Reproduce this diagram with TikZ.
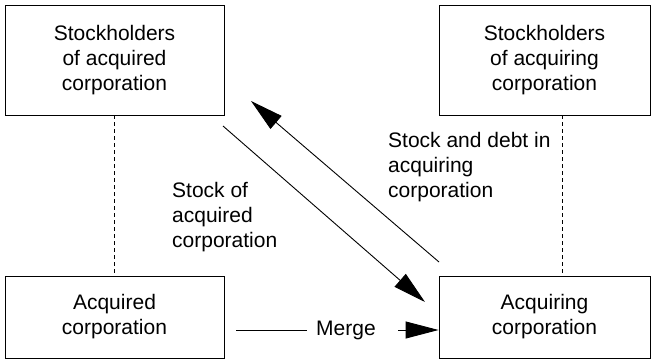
\documentclass[tikz,border=0pt]{standalone}
\usepackage{fontspec}
\setmainfont{Liberation Sans}
\usetikzlibrary{arrows.meta}
\begin{document}
\begin{tikzpicture}[x=1pt,y=-1pt,
  every node/.style={font=\fontsize{21}{25}\selectfont},
  party/.style={draw, line width=0.9pt, align=center, inner sep=0pt},
  note/.style={align=left, inner sep=0pt, anchor=base west},
  link/.style={line width=0.9pt},
  bigarrow/.style={link, -{Triangle[length=33pt,width=17pt]}},
  tie/.style={line width=0.9pt, dash pattern=on 4pt off 3pt}]
\useasboundingbox (0,0) rectangle (652,361);

% the four parties
\node[party, minimum width=219pt, minimum height=110pt] (sa) at (114.5,60) {Stockholders\\of acquired\\corporation};
\node[party, minimum width=211pt, minimum height=110pt] (sq) at (544.5,60) {Stockholders\\of acquiring\\corporation};
\node[party, minimum width=219pt, minimum height=82pt] (ad) at (114.5,317) {Acquired\\corporation};
\node[party, minimum width=211pt, minimum height=82pt] (ag) at (544.5,317) {Acquiring\\corporation};

% ownership ties
\draw[tie] (sa.south) -- (ad.north);
\draw[tie] (sq.south -| 562,0) -- (ag.north -| 562,0);

% exchange of stock
\coordinate (d1) at (223,126);
\coordinate (d2) at (425,302);
\coordinate (u1) at (439,262);
\coordinate (u2) at (251,101);
\draw[bigarrow] (d1) -- (d2);
\draw[bigarrow] (u1) -- (u2);

% labels, placed by the baseline of their last line
\node[note] (lab1) at (172,247) {Stock of\\acquired\\corporation};
\node[note] (lab2) at (388,197) {Stock and debt in\\acquiring\\corporation};

% merger
\node[inner sep=0pt] (merge) at (346,330) {Merge};
\coordinate (m1) at (236,330);
\coordinate (m2) at (307,330);
\coordinate (m3) at (398,330);
\coordinate (m4) at (ag.west |- m3);
\draw[link] (m1) -- (m2);
\draw[bigarrow] (m3) -- (m4);
\end{tikzpicture}
\end{document}
